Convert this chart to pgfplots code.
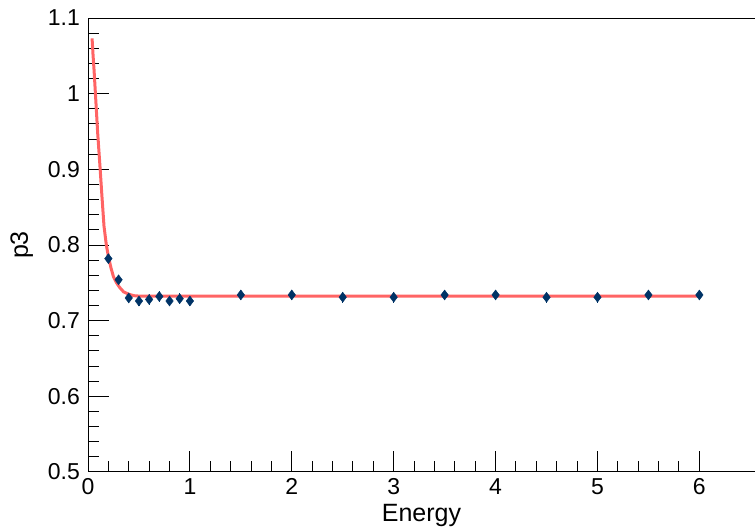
\documentclass[border=0pt]{standalone}
\usepackage{pgfplots}
\pgfplotsset{compat=1.18}
\usepackage{fontspec}
\setmainfont{Liberation Sans}
\definecolor{mkblue}{RGB}{0,51,102}
\definecolor{fitred}{RGB}{255,100,100}
\begin{document}
\fontsize{23bp}{27bp}\selectfont
\begin{tikzpicture}
\useasboundingbox (0,0) rectangle (755bp,528bp);
\begin{axis}[
  at={(88bp,56bp)}, anchor=south west,
  scale only axis, width=667bp, height=454bp,
  xmin=0, xmax=6.546, ymin=0.5, ymax=1.1,
  separate axis lines,
  axis x line*=box, axis y line*=left,
  axis line style={line width=1bp, -},
  every tick/.style={black, line width=1bp},
  tick align=inside, tick pos=left,
  major tick length=21bp, minor tick length=10.5bp,
  xtick={0,1,2,3,4,5,6}, ytick={0.5,0.6,0.7,0.8,0.9,1,1.1},
  yticklabels={0.5,0.6,0.7,0.8,0.9,1,1.1},
  minor x tick num=4, minor y tick num=4,
  /pgf/number format/assume math mode=true,
  tick label style={font=\fontsize{23bp}{27bp}\selectfont},
  yticklabel style={inner sep=0pt, xshift=-8bp},
  xticklabel style={inner sep=0pt, yshift=-6.5bp},
  label style={font=\fontsize{25bp}{29bp}\selectfont},
  xlabel={Energy}, ylabel={p3},
  xlabel style={at={(axis description cs:0.5,-0.1095)}, anchor=base},
  ylabel style={at={(axis description cs:-0.09,0.5)}, anchor=base, rotate=0},
  clip=false,
]
\addplot[only marks, mark=diamond*, mark size=5bp, color=mkblue,
  error bars/.cd, y dir=both, y fixed=0.007,
  error bar style={line width=1.2bp, mkblue}, error mark=none]
coordinates {
(0.2,0.782) (0.3,0.754) (0.4,0.730) (0.5,0.726) (0.6,0.728)
(0.7,0.732) (0.8,0.726) (0.9,0.729) (1.0,0.726)
(1.5,0.734) (2.0,0.734) (2.5,0.731) (3.0,0.731) (3.5,0.734)
(4.0,0.734) (4.5,0.731) (5.0,0.731) (5.5,0.734) (6.0,0.734)
};
\addplot[color=fitred, line width=3bp, no marks] coordinates {
(0.040,1.073) (0.050,1.050) (0.060,1.030) (0.075,0.995) (0.095,0.948)
(0.118,0.903) (0.137,0.864) (0.157,0.825) (0.180,0.800) (0.200,0.785)
(0.225,0.770) (0.250,0.758) (0.280,0.750) (0.310,0.744) (0.350,0.738)
(0.400,0.735) (0.450,0.733) (0.500,0.7325) (1.0,0.7325) (6.0,0.7325)
};
\end{axis}
\end{tikzpicture}
\end{document}
